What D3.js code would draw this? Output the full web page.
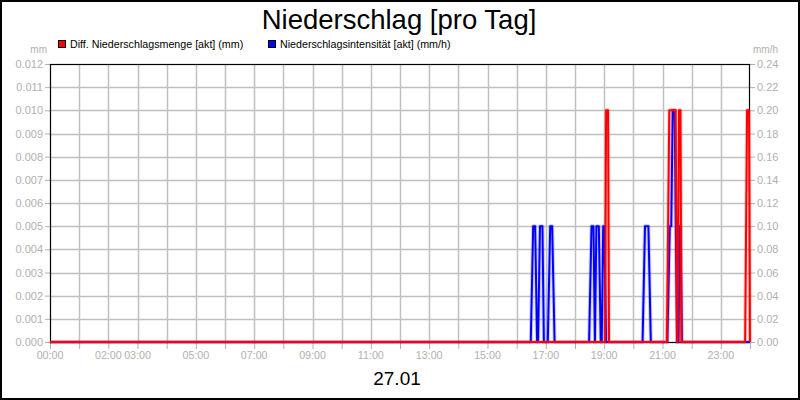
<!DOCTYPE html>
<html><head><meta charset="utf-8">
<script src="https://cdn.jsdelivr.net/npm/d3@7"></script>
<style>
body{margin:0;background:#fff;}
svg{display:block;font-family:"Liberation Sans",Arial,sans-serif;}
</style></head>
<body><svg id="chart" width="800" height="400"></svg>
<script>
// ---- data ----
const title = "Niederschlag [pro Tag]";
const dateLabel = "27.01";
const seriesNames = ["Diff. Niederschlagsmenge [akt] (mm)", "Niederschlagsintensität [akt] (mm/h)"];
const seriesColors = ["#ff0000", "#0000ff"];
// x values in minutes after 00:00
const xTickMinutes = [0, 120, 180, 300, 420, 540, 660, 780, 900, 1020, 1140, 1260, 1380];
const xTickLabels = ["00:00", "02:00", "03:00", "05:00", "07:00", "09:00", "11:00", "13:00", "15:00", "17:00", "19:00", "21:00", "23:00"];
const leftTicks = [0, 0.001, 0.002, 0.003, 0.004, 0.005, 0.006, 0.007, 0.008, 0.009, 0.010, 0.011, 0.012];
const rightTicks = [0, 0.02, 0.04, 0.06, 0.08, 0.10, 0.12, 0.14, 0.16, 0.18, 0.20, 0.22, 0.24];
// Diff. Niederschlagsmenge (mm)
const mengeTime  = [0, 1142, 1144, 1148, 1150, 1269, 1274, 1287, 1290, 1291, 1294, 1297, 1299, 1430, 1434, 1438, 1440];
const mengeValue = [0, 0, 0.010, 0.010, 0, 0, 0.010, 0.010, 0, 0, 0.010, 0.010, 0, 0, 0.010, 0.010, 0];
// Niederschlagsintensität (mm/h)
const intensTime  = [0, 989, 994, 998, 1002, 1004, 1008, 1013, 1016, 1024, 1029, 1033, 1038, 1109, 1114, 1118, 1121, 1124, 1129, 1133, 1135, 1138, 1140, 1144, 1219, 1224, 1231, 1236, 1270, 1275, 1278, 1281, 1285, 1290, 1293, 1295, 1297, 1300, 1440];
const intensValue = [0, 0, 0.10, 0.10, 0, 0, 0.10, 0.10, 0, 0, 0.10, 0.10, 0, 0, 0.10, 0.10, 0, 0.10, 0.10, 0, 0, 0.10, 0.10, 0, 0, 0.10, 0.10, 0, 0, 0.10, 0.10, 0.20, 0.20, 0, 0, 0.10, 0.10, 0, 0];

// ---- layout ----
const svg = d3.select("#chart");
const L = 50, R = 750, T = 64, B = 342;
const gridColor = "#c0c0c0", labelColor = "#b0b0b0";

const x = d3.scaleLinear().domain([0, 1440]).range([L, R]);
const yL = d3.scaleLinear().domain([0, 0.012]).range([B, T]);
const yR = d3.scaleLinear().domain([0, 0.24]).range([B, T]);

svg.append("rect").attr("x", 1).attr("y", 1).attr("width", 798).attr("height", 398)
  .attr("fill", "#fff").attr("stroke", "#000").attr("stroke-width", 2);

// gridlines
const hours = d3.range(1, 24).map(h => h * 60);
svg.append("g").selectAll("line").data(hours).join("line")
  .attr("x1", d => Math.round(x(d)) + 0.5).attr("x2", d => Math.round(x(d)) + 0.5)
  .attr("y1", T).attr("y2", B).attr("stroke", gridColor).attr("stroke-width", 1.5);
svg.append("g").selectAll("line").data(leftTicks.slice(1, -1)).join("line")
  .attr("x1", L).attr("x2", R)
  .attr("y1", d => Math.round(yL(d)) + 0.5).attr("y2", d => Math.round(yL(d)) + 0.5)
  .attr("stroke", gridColor).attr("stroke-width", 1.5);

// axes
const axL = svg.append("g").attr("transform", `translate(${L},0)`)
  .call(d3.axisLeft(yL).tickValues(leftTicks).tickFormat(d3.format(".3f")).tickSize(5).tickSizeOuter(0));
const axR = svg.append("g").attr("transform", `translate(${R},0)`)
  .call(d3.axisRight(yR).tickValues(rightTicks).tickFormat(d3.format(".2f")).tickSize(5).tickSizeOuter(0));
const axB = svg.append("g").attr("transform", `translate(0,${B})`)
  .call(d3.axisBottom(x).tickValues([0].concat(hours).concat([1440])).tickFormat(() => "").tickSize(7).tickSizeOuter(0));
// bottom labels
axB.selectAll(".lbl").data(xTickMinutes).join("text").attr("class", "lbl")
  .attr("x", d => x(d)).attr("y", 17).attr("text-anchor", "middle")
  .text((d, i) => xTickLabels[i]);
[axL, axR, axB].forEach(a => {
  a.select(".domain").remove();
  a.selectAll(".tick line").attr("stroke", labelColor);
  a.selectAll("text").attr("fill", labelColor).attr("font-size", 11)
   .attr("font-family", '"Liberation Sans",Arial,sans-serif');
});
axB.selectAll(".lbl").attr("font-size", 10.7);
axL.selectAll(".tick text").attr("x", -7);
axR.selectAll(".tick text").attr("x", 7);

// plot frame
svg.append("rect").attr("x", L + 0.5).attr("y", T + 0.5).attr("width", R - L - 1).attr("height", B - T)
  .attr("fill", "none").attr("stroke", "#000").attr("stroke-width", 1.2);

// unit labels
svg.append("text").attr("x", 47).attr("y", 53).attr("text-anchor", "end").attr("fill", labelColor)
  .attr("font-size", 10).text("mm");
svg.append("text").attr("x", 753).attr("y", 53).attr("fill", labelColor)
  .attr("font-size", 10).text("mm/h");

// lines
const lineL = d3.line().x(d => x(d[0])).y(d => yL(d[1]));
const lineR = d3.line().x(d => x(d[0])).y(d => yR(d[1]));
const intensData = intensTime.map((t, i) => [t, intensValue[i]]);
const mengeData = mengeTime.map((t, i) => [t, mengeValue[i]]);
const lines = svg.append("g");
[[intensData, lineR, seriesColors[1]], [mengeData, lineL, seriesColors[0]]].forEach(([data, gen, col]) => {
  lines.append("path").attr("d", gen(data)).attr("fill", "none").attr("stroke", col)
    .attr("stroke-width", 4).attr("stroke-opacity", 0.2).attr("stroke-linejoin", "round");
  lines.append("path").attr("d", gen(data)).attr("fill", "none").attr("stroke", col)
    .attr("stroke-width", 2).attr("stroke-linejoin", "round");
});

// title
svg.append("text").attr("x", 399).attr("y", 29).attr("text-anchor", "middle")
  .attr("font-size", 27.5).attr("fill", "#000").text(title);
svg.append("text").attr("x", 397).attr("y", 385).attr("text-anchor", "middle")
  .attr("font-size", 19).attr("fill", "#000").text(dateLabel);

// legend
const legX = [58, 268];
seriesNames.forEach((name, i) => {
  svg.append("rect").attr("x", legX[i] + 0.5).attr("y", 40.5).attr("width", 7).attr("height", 7)
    .attr("fill", seriesColors[i]).attr("stroke", "#000").attr("stroke-width", 1);
  svg.append("text").attr("x", legX[i] + 12).attr("y", 48).attr("font-size", 10.7)
    .attr("fill", "#000").text(name);
});
</script></body></html>
